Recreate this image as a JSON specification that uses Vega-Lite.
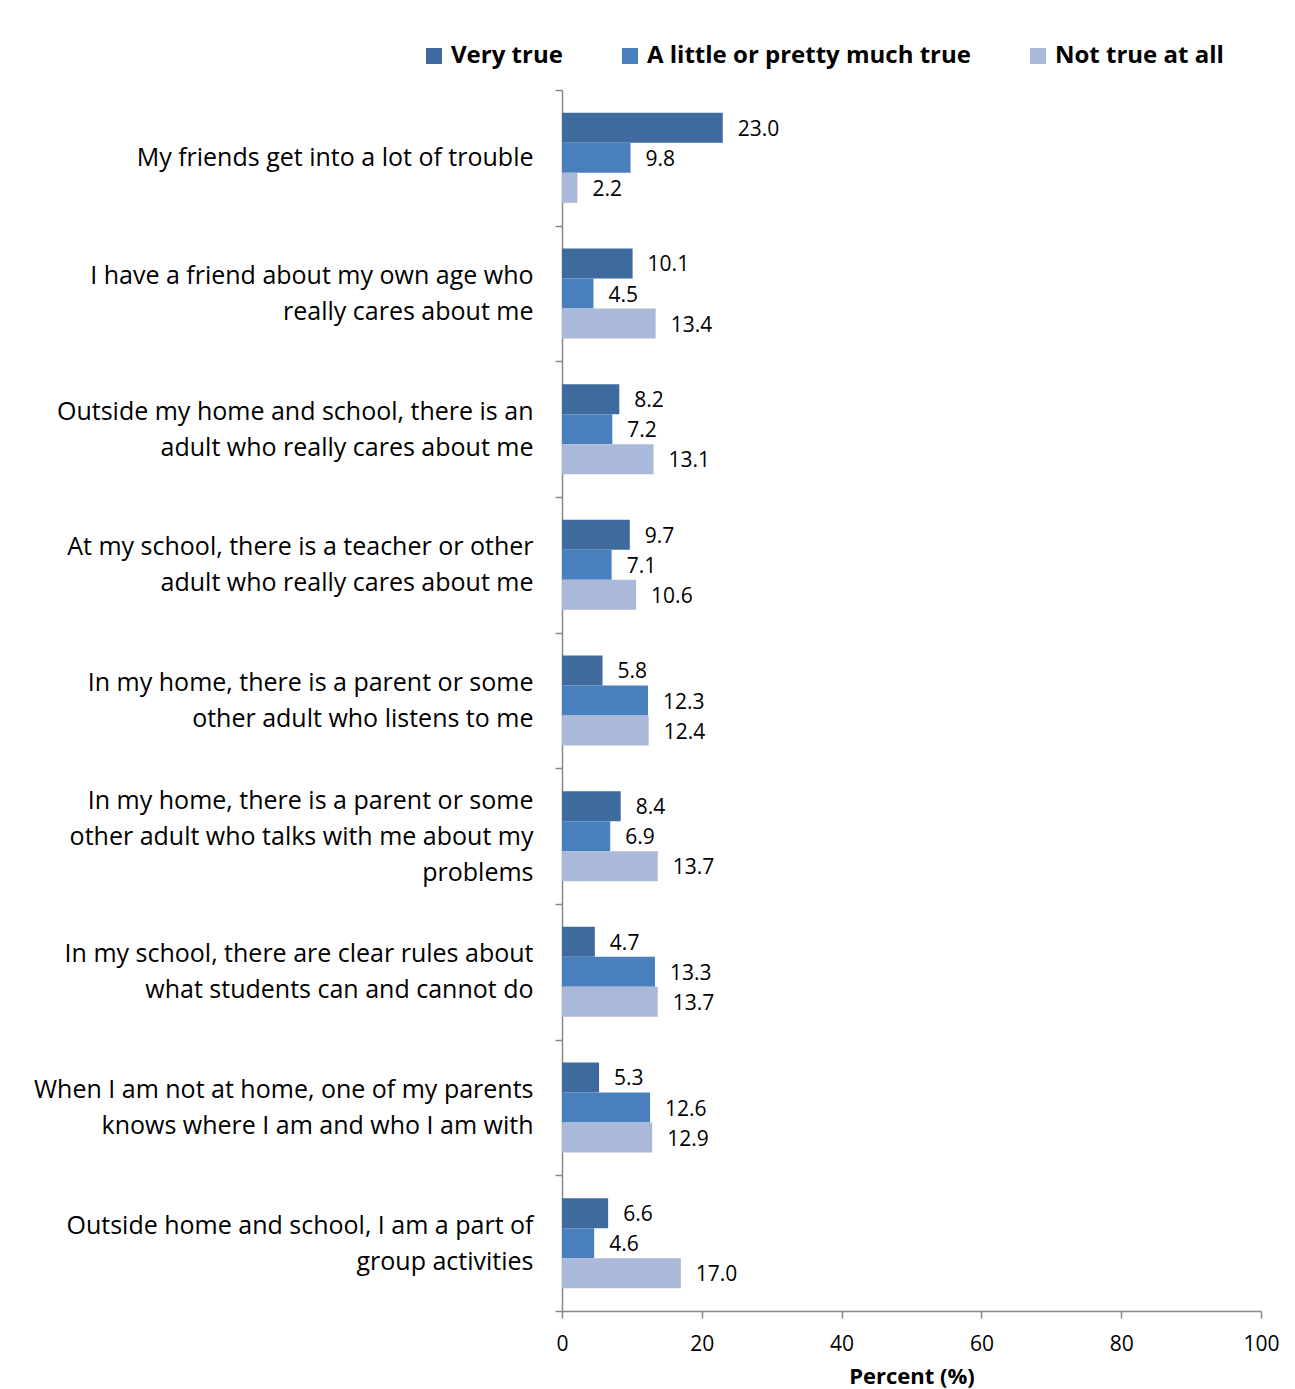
{
  "$schema": "https://vega.github.io/schema/vega-lite/v6.json",
  "width": 699,
  "height": 1221,
  "autosize": {"type": "none"},
  "padding": {"left": 562, "top": 90, "right": 34, "bottom": 78},
  "background": "white",
  "config": {"view": {"stroke": null}, "font": "Open Sans"},
  "data": {"values": [
    {"item": "My friends get into a lot of trouble", "response": "Very true", "pct": 23.0},
    {"item": "My friends get into a lot of trouble", "response": "A little or pretty much true", "pct": 9.8},
    {"item": "My friends get into a lot of trouble", "response": "Not true at all", "pct": 2.2},
    {"item": "I have a friend about my own age who|really cares about me", "response": "Very true", "pct": 10.1},
    {"item": "I have a friend about my own age who|really cares about me", "response": "A little or pretty much true", "pct": 4.5},
    {"item": "I have a friend about my own age who|really cares about me", "response": "Not true at all", "pct": 13.4},
    {"item": "Outside my home and school, there is an|adult who really cares about me", "response": "Very true", "pct": 8.2},
    {"item": "Outside my home and school, there is an|adult who really cares about me", "response": "A little or pretty much true", "pct": 7.2},
    {"item": "Outside my home and school, there is an|adult who really cares about me", "response": "Not true at all", "pct": 13.1},
    {"item": "At my school, there is a teacher or other|adult who really cares about me", "response": "Very true", "pct": 9.7},
    {"item": "At my school, there is a teacher or other|adult who really cares about me", "response": "A little or pretty much true", "pct": 7.1},
    {"item": "At my school, there is a teacher or other|adult who really cares about me", "response": "Not true at all", "pct": 10.6},
    {"item": "In my home, there is a parent or some|other adult who listens to me", "response": "Very true", "pct": 5.8},
    {"item": "In my home, there is a parent or some|other adult who listens to me", "response": "A little or pretty much true", "pct": 12.3},
    {"item": "In my home, there is a parent or some|other adult who listens to me", "response": "Not true at all", "pct": 12.4},
    {"item": "In my home, there is a parent or some|other adult who talks with me about my|problems", "response": "Very true", "pct": 8.4},
    {"item": "In my home, there is a parent or some|other adult who talks with me about my|problems", "response": "A little or pretty much true", "pct": 6.9},
    {"item": "In my home, there is a parent or some|other adult who talks with me about my|problems", "response": "Not true at all", "pct": 13.7},
    {"item": "In my school, there are clear rules about|what students can and cannot do", "response": "Very true", "pct": 4.7},
    {"item": "In my school, there are clear rules about|what students can and cannot do", "response": "A little or pretty much true", "pct": 13.3},
    {"item": "In my school, there are clear rules about|what students can and cannot do", "response": "Not true at all", "pct": 13.7},
    {"item": "When I am not at home, one of my parents|knows where I am and who I am with", "response": "Very true", "pct": 5.3},
    {"item": "When I am not at home, one of my parents|knows where I am and who I am with", "response": "A little or pretty much true", "pct": 12.6},
    {"item": "When I am not at home, one of my parents|knows where I am and who I am with", "response": "Not true at all", "pct": 12.9},
    {"item": "Outside home and school, I am a part of|group activities", "response": "Very true", "pct": 6.6},
    {"item": "Outside home and school, I am a part of|group activities", "response": "A little or pretty much true", "pct": 4.6},
    {"item": "Outside home and school, I am a part of|group activities", "response": "Not true at all", "pct": 17.0}
  ]},
  "encoding": {
    "y": {
      "field": "item", "type": "nominal", "sort": null,
      "scale": {"paddingInner": 0, "paddingOuter": 0},
      "axis": {
        "title": null,
        "labelExpr": "split(datum.label, '|')",
        "labelFontSize": 25,
        "labelColor": "#000000",
        "labelLineHeight": 36,
        "labelLimit": 600,
        "labelPadding": 22,
        "labelAlign": "right",
        "labelBaseline": "middle",
        "labelOffset": {
          "condition": [
            {"test": "length(split(datum.label, '|')) == 3", "value": -36},
            {"test": "length(split(datum.label, '|')) == 2", "value": -18}
          ],
          "value": 0
        },
        "tickBand": "extent",
        "tickSize": 7,
        "tickColor": "#888888",
        "domainColor": "#888888",
        "domainWidth": 1.5,
        "tickWidth": 1.5
      }
    },
    "yOffset": {
      "field": "response", "type": "nominal",
      "sort": ["Very true", "A little or pretty much true", "Not true at all"],
      "scale": {"paddingInner": 0, "paddingOuter": 0.76}
    },
    "x": {
      "field": "pct", "type": "quantitative",
      "scale": {"domain": [0, 100]},
      "axis": {
        "title": "Percent (%)",
        "titleFontSize": 22,
        "titleFontWeight": "bold",
        "titleColor": "#000000",
        "titlePadding": 12,
        "values": [0, 20, 40, 60, 80, 100],
        "grid": false,
        "labelFlush": false,
        "labelFontSize": 21,
        "labelColor": "#000000",
        "labelPadding": 15,
        "tickSize": 7,
        "tickColor": "#888888",
        "domainColor": "#888888",
        "domainWidth": 1.5,
        "tickWidth": 1.5
      }
    }
  },
  "layer": [
    {
      "mark": {"type": "bar"},
      "encoding": {
        "color": {
          "field": "response", "type": "nominal",
          "sort": ["Very true", "A little or pretty much true", "Not true at all"],
          "scale": {
            "domain": ["Very true", "A little or pretty much true", "Not true at all"],
            "range": ["#3F6A9D", "#4A7FBE", "#AAB9D9"]
          },
          "legend": {
            "title": null,
            "orient": "none",
            "direction": "horizontal",
            "legendX": -140,
            "legendY": -46,
            "symbolType": "square",
            "symbolSize": 256,
            "symbolStrokeWidth": 0,
            "labelFontSize": 24,
            "labelFontWeight": "bold",
            "labelColor": "#000000",
            "labelLimit": 500,
            "columnPadding": 55,
            "labelOffset": 5
          }
        }
      }
    },
    {
      "mark": {"type": "text", "align": "left", "baseline": "middle", "dx": 15, "dy": 2, "fontSize": 21, "color": "#000000"},
      "encoding": {
        "text": {"field": "pct", "type": "quantitative", "format": ".1f"}
      }
    }
  ]
}
